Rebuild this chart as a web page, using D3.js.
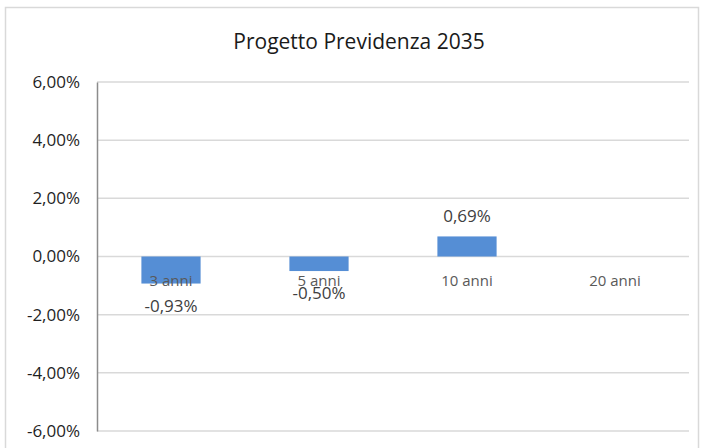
<!DOCTYPE html>
<html>
<head>
<meta charset="utf-8">
<script src="https://cdn.jsdelivr.net/npm/d3@7"></script>
<style>
  body { margin: 0; background: #fff; }
  svg { display: block; font-family: "Open Sans", "Noto Sans", sans-serif; }
</style>
</head>
<body>
<div id="chart"></div>
<script>
var categories = ["3 anni", "5 anni", "10 anni", "20 anni"];
var values = [-0.0093, -0.0050, 0.0069, null];
var tickValues = [0.06, 0.04, 0.02, 0, -0.02, -0.04, -0.06];
var title = "Progetto Previdenza 2035";

var svgWidth = 703;
var svgHeight = 448;

var margin = { top: 82, right: 14, bottom: 17, left: 97 };
var width = 689 - margin.left;
var height = 431 - margin.top;

var svg = d3.select("#chart")
  .append("svg")
  .attr("width", svgWidth)
  .attr("height", svgHeight);

// chart frame
svg.append("rect")
  .attr("x", 5.5)
  .attr("y", 7.5)
  .attr("width", 693)
  .attr("height", 460)
  .attr("fill", "none")
  .attr("stroke", "#d9d9d9")
  .attr("stroke-width", 1.5);

svg.append("text")
  .attr("x", 359)
  .attr("y", 49)
  .attr("text-anchor", "middle")
  .attr("font-size", "21px")
  .attr("fill", "#1a1a1a")
  .text(title);

var chartGroup = svg.append("g")
  .attr("transform", `translate(${margin.left}, ${margin.top})`);

var xScale = d3.scaleBand()
  .domain(categories)
  .range([0, width])
  .paddingInner(0.6)
  .paddingOuter(0.3);

var yScale = d3.scaleLinear()
  .domain([-0.06, 0.06])
  .range([height, 0]);

var fmt = function(v) {
  return (v * 100).toFixed(2).replace(".", ",") + "%";
};

// gridlines
chartGroup.append("g")
  .selectAll("line")
  .data(tickValues)
  .enter()
  .append("line")
  .attr("x1", 0)
  .attr("x2", width)
  .attr("y1", d => yScale(d))
  .attr("y2", d => yScale(d))
  .attr("stroke", "#d9d9d9")
  .attr("stroke-width", 1.5);

// y axis
var leftAxis = d3.axisLeft(yScale)
  .tickValues(tickValues)
  .tickSize(0)
  .tickPadding(17)
  .tickFormat(fmt);

var yAxis = chartGroup.append("g").call(leftAxis);
yAxis.select(".domain")
  .attr("stroke", "#8c8c8c")
  .attr("stroke-width", 1.5);
yAxis.selectAll("text")
  .attr("font-size", "17px")
  .attr("fill", "#1f1f1f")
  .attr("font-family", "Open Sans, Noto Sans, sans-serif");

// bars
var barData = categories.map((c, i) => ({ cat: c, value: values[i] }))
  .filter(d => d.value !== null);

chartGroup.selectAll("rect.bar")
  .data(barData)
  .enter()
  .append("rect")
  .attr("class", "bar")
  .attr("x", d => xScale(d.cat))
  .attr("width", xScale.bandwidth())
  .attr("y", d => yScale(Math.max(0, d.value)))
  .attr("height", d => Math.abs(yScale(d.value) - yScale(0)))
  .attr("fill", "#558ed5");

// category labels next to the zero line
chartGroup.append("g")
  .selectAll("text")
  .data(categories)
  .enter()
  .append("text")
  .attr("x", d => xScale(d) + xScale.bandwidth() / 2)
  .attr("y", yScale(0) + 29)
  .attr("text-anchor", "middle")
  .attr("font-size", "15px")
  .attr("fill", "#595959")
  .text(d => d);

// data labels
chartGroup.append("g")
  .selectAll("text")
  .data(barData)
  .enter()
  .append("text")
  .attr("x", d => xScale(d.cat) + xScale.bandwidth() / 2)
  .attr("y", d => d.value >= 0 ? yScale(d.value) - 14 : yScale(d.value) + 28)
  .attr("text-anchor", "middle")
  .attr("font-size", "17px")
  .attr("fill", "#404040")
  .text(d => fmt(d.value));
</script>
</body>
</html>
